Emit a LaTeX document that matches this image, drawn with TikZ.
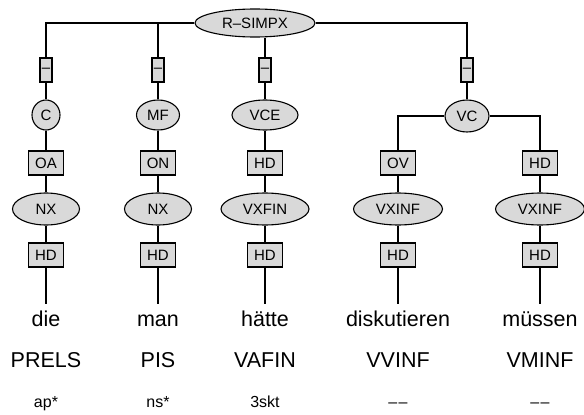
\documentclass[tikz,border=0pt]{standalone}
\usepackage{fontspec}
\setmainfont{Liberation Sans}
\usepackage{tikz}
\usetikzlibrary{shapes.geometric}

\begin{document}
\begin{tikzpicture}[x=1pt, y=-1pt,
    cat/.style={ellipse, draw, fill=black!15, line width=1.1pt, inner sep=0pt,
                minimum height=30pt, font=\fontsize{15}{17}\selectfont},
    fn/.style={rectangle, draw, fill=black!15, line width=1.1pt, inner sep=0pt,
               minimum width=35pt, minimum height=24pt, font=\fontsize{15}{17}\selectfont},
    word/.style={anchor=base, inner xsep=0pt, inner ysep=8pt, text height=14pt,
                 text depth=4pt, font=\fontsize{21.5}{25}\selectfont},
    tag/.style={anchor=base, inner sep=0pt, font=\fontsize{21.5}{25}\selectfont},
    morph/.style={anchor=base, inner sep=0pt, font=\fontsize{16}{19}\selectfont},
    tree/.style={line width=1.1pt}
]
\useasboundingbox (0,0) rectangle (584,415);

% root and the four daughters
\node[cat, minimum width=120pt, minimum height=28pt] (rsimpx) at (255,23) {R–SIMPX};
\node[fn, minimum width=12pt] (d1) at (46,70)  {–};
\node[fn, minimum width=12pt] (d2) at (158,70) {–};
\node[fn, minimum width=12pt] (d3) at (265,70) {–};
\node[fn, minimum width=12pt] (d4) at (467,70) {–};

% topological fields
\node[cat, minimum width=28pt] (c)   at (46,115)  {C};
\node[cat, minimum width=43pt] (mf)  at (158,115) {MF};
\node[cat, minimum width=66pt] (vce) at (265,115) {VCE};
\node[cat, minimum width=44pt, minimum height=32pt] (vc) at (467,116) {VC};

% functions
\node[fn] (oa)  at (46,163)  {OA};
\node[fn] (on)  at (158,163) {ON};
\node[fn] (hdv) at (265,163) {HD};
\node[fn] (ov)  at (398,163) {OV};
\node[fn] (hdm) at (540,163) {HD};

% phrases
\node[cat, minimum width=67pt, minimum height=32pt] (nx1)   at (46,209)  {NX};
\node[cat, minimum width=67pt, minimum height=32pt] (nx2)   at (158,209) {NX};
\node[cat, minimum width=88pt, minimum height=32pt] (vxfin) at (265,209) {VXFIN};
\node[cat, minimum width=89pt, minimum height=32pt] (vxinf1) at (398,209) {VXINF};
\node[cat, minimum width=89pt, minimum height=32pt] (vxinf2) at (540,209) {VXINF};

% heads
\node[fn] (hd1) at (46,255)  {HD};
\node[fn] (hd2) at (158,255) {HD};
\node[fn] (hd3) at (265,255) {HD};
\node[fn] (hd4) at (398,255) {HD};
\node[fn] (hd5) at (540,255) {HD};

% tokens, tags, morphology
\node[word] (w1) at (46,326)  {die};
\node[word] (w2) at (158,326) {man};
\node[word] (w3) at (265,326) {hätte};
\node[word] (w4) at (398,326) {diskutieren};
\node[word] (w5) at (540,326) {müssen};

\node[tag] (t1) at (46,367)  {PRELS};
\node[tag] (t2) at (158,367) {PIS};
\node[tag] (t3) at (265,367) {VAFIN};
\node[tag] (t4) at (398,367) {VVINF};
\node[tag] (t5) at (540,367) {VMINF};

\node[morph] (m1) at (46,407)  {ap*};
\node[morph] (m2) at (158,407) {ns*};
\node[morph] (m3) at (265,407) {3skt};
\node[morph] (m4) at (398,407) {–\kern1.5pt–};
\node[morph] (m5) at (540,407) {–\kern1.5pt–};

% edges
\draw[tree] (rsimpx) -| (d1);
\draw[tree] (rsimpx) -| (d2);
\draw[tree] (d3) -- (d3 |- rsimpx.south);
\draw[tree] (rsimpx) -| (d4);
\draw[tree] (d1) -- (c);
\draw[tree] (d2) -- (mf);
\draw[tree] (d3) -- (vce);
\draw[tree] (d4) -- (vc);
\draw[tree] (c) -- (oa);
\draw[tree] (mf) -- (on);
\draw[tree] (vce) -- (hdv);
\draw[tree] (vc) -| (ov);
\draw[tree] (vc) -| (hdm);
\draw[tree] (oa) -- (nx1);
\draw[tree] (on) -- (nx2);
\draw[tree] (hdv) -- (vxfin);
\draw[tree] (ov) -- (vxinf1);
\draw[tree] (hdm) -- (vxinf2);
\draw[tree] (nx1) -- (hd1);
\draw[tree] (nx2) -- (hd2);
\draw[tree] (vxfin) -- (hd3);
\draw[tree] (vxinf1) -- (hd4);
\draw[tree] (vxinf2) -- (hd5);
\draw[tree] (hd1) -- (w1);
\draw[tree] (hd2) -- (w2);
\draw[tree] (hd3) -- (w3);
\draw[tree] (hd4) -- (w4);
\draw[tree] (hd5) -- (w5);
\end{tikzpicture}
\end{document}
